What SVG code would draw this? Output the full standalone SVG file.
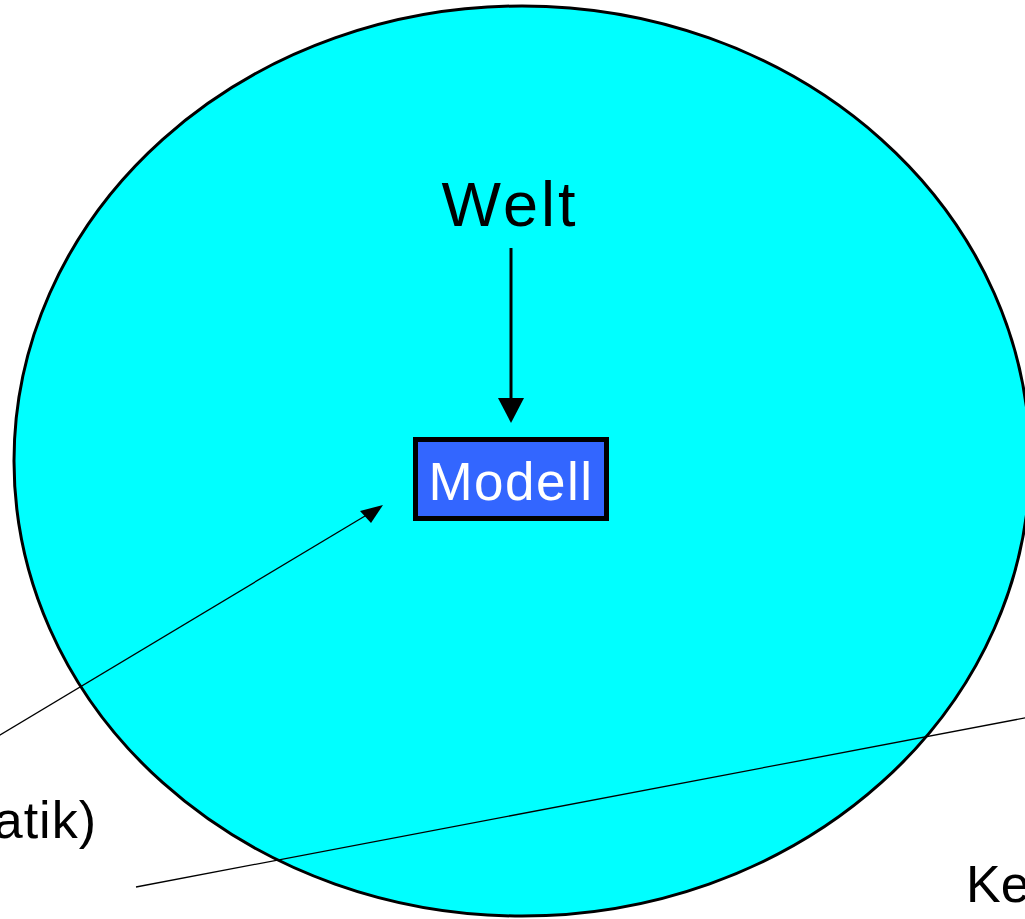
<svg xmlns="http://www.w3.org/2000/svg" width="1025" height="919" viewBox="0 0 1025 919">
<style>
text{font-family:"Liberation Sans",Arial,sans-serif}
.lbl{fill:#000;font-size:52px}
.thin{stroke:#000;stroke-width:1.3;fill:none}
</style>
<defs>
<marker id="ah" markerWidth="10" markerHeight="10" refX="9" refY="5" orient="auto" markerUnits="userSpaceOnUse" viewBox="0 0 10 10">
<path d="M0,0 L10,5 L0,10 Z" fill="#000"/>
</marker>
</defs>
<rect width="1025" height="919" fill="#fff"/>
<g id="world">
<ellipse cx="522" cy="461" rx="508" ry="455" fill="#00FFFF" stroke="#000" stroke-width="3"/>
</g>
<g id="connectors">
<line x1="511" y1="248" x2="511" y2="400" stroke="#000" stroke-width="3"/>
<path d="M498,398 L524,398 L511,423 Z" fill="#000"/>
<line x1="-10" y1="741" x2="370" y2="513" class="thin"/>
<path d="M383,505 L360,511 L371,523 Z" fill="#000"/>
<line x1="136" y1="887" x2="1030" y2="717" class="thin"/>
</g>
<g id="welt">
<text x="510" y="226" text-anchor="middle" font-size="63" letter-spacing="3">Welt</text>
</g>
<g id="modell">
<rect x="415.5" y="439.5" width="191" height="79" fill="#3366FF" stroke="#000" stroke-width="5"/>
<text x="511" y="500" text-anchor="middle" font-size="53" fill="#fff" letter-spacing="1.5">Modell</text>
</g>
<g id="label-left">
<text x="97" y="838" text-anchor="end" class="lbl" letter-spacing="1">atik)</text>
</g>
<g id="label-right">
<text x="966" y="902" class="lbl">Ke</text>
</g>
</svg>
